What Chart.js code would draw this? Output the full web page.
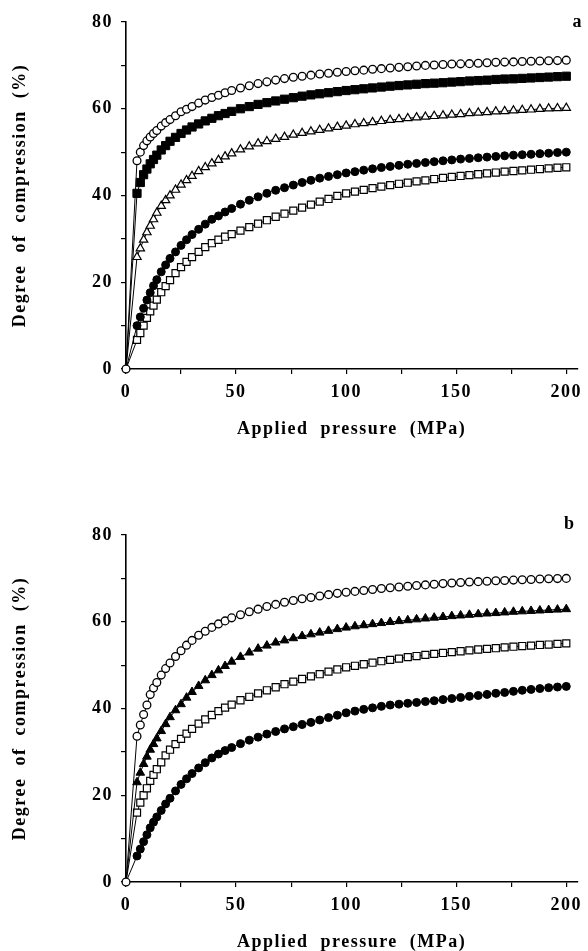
<!DOCTYPE html>
<html>
<head>
<meta charset="utf-8">
<script src="https://cdn.jsdelivr.net/npm/chart.js@4.4.1/dist/chart.umd.min.js"></script>
<style>
  html, body { margin: 0; padding: 0; background: #fff; width: 588px; height: 951px; overflow: hidden; }
  .panel { position: absolute; left: 0; }
</style>
</head>
<body>
<div class="panel" style="top:0px"><canvas id="chartA" width="588" height="450"></canvas></div>
<div class="panel" style="top:470px"><canvas id="chartB" width="588" height="481"></canvas></div>
<script>
// ---------------- DATA ----------------
const pressure = [0, 5, 6.5, 8, 9.5, 11, 12.5, 14, 16, 18, 20, 22.5, 25, 27.5, 30, 33, 36, 39, 42, 45, 48,
  52, 56, 60, 64, 68, 72, 76, 80, 84, 88, 92, 96, 100, 104, 108, 112, 116, 120, 124, 128, 132, 136, 140,
  144, 148, 152, 156, 160, 164, 168, 172, 176, 180, 184, 188, 192, 196, 200];

const xTicks = [0, 25, 50, 75, 100, 125, 150, 175, 200];
const yTicks = [0, 10, 20, 30, 40, 50, 60, 70, 80];

// Panel a
const aOpenCircles = [0, 48.0, 50.0, 51.5, 52.6, 53.5, 54.3, 55.0, 56.0, 56.8, 57.5, 58.4, 59.3, 59.9, 60.5,
  61.3, 62.0, 62.6, 63.1, 63.7, 64.2, 64.8, 65.3, 65.8, 66.2, 66.6, 66.95, 67.25, 67.5, 67.75, 68.0, 68.2,
  68.4, 68.6, 68.75, 68.9, 69.1, 69.25, 69.4, 69.55, 69.7, 69.85, 70.0, 70.1, 70.2, 70.3, 70.35, 70.4, 70.5,
  70.6, 70.7, 70.75, 70.8, 70.9, 70.95, 71.0, 71.05, 71.1, 71.2];
const aFilledSquares = [0, 40.5, 43.0, 44.8, 46.1, 47.3, 48.3, 49.3, 50.5, 51.5, 52.5, 53.4, 54.3, 55.1, 55.8,
  56.5, 57.2, 57.8, 58.4, 58.9, 59.4, 60.0, 60.5, 61.0, 61.4, 61.8, 62.2, 62.55, 62.9, 63.2, 63.45, 63.7,
  63.95, 64.2, 64.4, 64.6, 64.8, 65.0, 65.2, 65.35, 65.5, 65.65, 65.8, 65.9, 66.0, 66.15, 66.25, 66.4, 66.5,
  66.6, 66.75, 66.85, 66.9, 67.0, 67.1, 67.2, 67.3, 67.4, 67.5];
const aOpenTriangles = [0, 25.8, 27.8, 29.8, 31.5, 33.0, 34.5, 36.0, 37.6, 38.9, 40.0, 41.3, 42.5, 43.5, 44.5,
  45.6, 46.5, 47.4, 48.2, 49.0, 49.7, 50.6, 51.3, 52.0, 52.5, 53.05, 53.5, 54.0, 54.4, 54.75, 55.1, 55.45,
  55.8, 56.1, 56.4, 56.65, 56.9, 57.15, 57.4, 57.6, 57.8, 58.0, 58.15, 58.3, 58.45, 58.6, 58.75, 58.95, 59.1,
  59.2, 59.35, 59.45, 59.6, 59.7, 59.8, 59.95, 60.05, 60.1, 60.2];
const aFilledCircles = [0, 10.0, 12.0, 14.0, 15.9, 17.6, 19.2, 20.6, 22.4, 24.0, 25.5, 27.0, 28.5, 29.8, 31.0,
  32.2, 33.4, 34.5, 35.3, 36.2, 37.0, 38.0, 38.9, 39.7, 40.5, 41.2, 41.8, 42.4, 43.0, 43.5, 44.0, 44.4,
  44.8, 45.2, 45.5, 45.85, 46.15, 46.45, 46.7, 46.95, 47.2, 47.4, 47.6, 47.8, 48.0, 48.2, 48.4, 48.55, 48.7,
  48.85, 49.0, 49.15, 49.3, 49.4, 49.5, 49.65, 49.75, 49.9, 50.0];
const aOpenSquares = [0, 6.7, 8.3, 10.0, 11.8, 13.3, 14.6, 16.0, 17.7, 19.1, 20.5, 22.1, 23.5, 24.7, 25.8,
  27.0, 28.1, 29.0, 29.8, 30.5, 31.1, 31.9, 32.7, 33.5, 34.3, 35.1, 35.8, 36.5, 37.2, 37.9, 38.6, 39.2,
  39.9, 40.5, 40.9, 41.3, 41.7, 42.05, 42.4, 42.7, 42.95, 43.25, 43.5, 43.8, 44.05, 44.3, 44.5, 44.7, 44.9,
  45.1, 45.3, 45.5, 45.65, 45.8, 45.95, 46.1, 46.25, 46.4, 46.5];

// Panel b
const bOpenCircles = [0, 33.6, 36.2, 38.6, 40.8, 43.2, 44.7, 46.0, 47.7, 49.2, 50.5, 52.0, 53.3, 54.6, 55.7,
  56.9, 57.8, 58.7, 59.5, 60.2, 60.9, 61.6, 62.3, 62.9, 63.5, 64.0, 64.5, 64.9, 65.3, 65.6, 65.95, 66.25,
  66.55, 66.8, 67.0, 67.2, 67.45, 67.65, 67.85, 68.0, 68.2, 68.35, 68.5, 68.65, 68.8, 68.95, 69.05, 69.15,
  69.25, 69.35, 69.45, 69.5, 69.6, 69.7, 69.75, 69.85, 69.9, 69.95, 70.0];
const bFilledTriangles = [0, 23.0, 25.2, 27.2, 28.9, 30.5, 31.8, 33.1, 34.8, 36.4, 38.0, 39.6, 41.0, 42.5, 43.8,
  45.2, 46.5, 47.7, 48.8, 49.8, 50.8, 51.9, 52.9, 53.8, 54.5, 55.2, 55.7, 56.2, 56.7, 57.1, 57.5, 57.9,
  58.3, 58.65, 58.95, 59.2, 59.45, 59.7, 59.95, 60.15, 60.35, 60.55, 60.75, 60.95, 61.1, 61.3, 61.45, 61.6,
  61.75, 61.9, 62.0, 62.15, 62.3, 62.4, 62.5, 62.6, 62.7, 62.8, 62.9];
const bOpenSquares = [0, 16.0, 18.3, 20.0, 21.6, 23.3, 24.7, 26.0, 27.6, 29.2, 30.5, 31.8, 33.0, 34.2, 35.3,
  36.5, 37.5, 38.5, 39.4, 40.2, 40.9, 41.9, 42.7, 43.5, 44.2, 44.9, 45.6, 46.2, 46.8, 47.4, 47.9, 48.5,
  49.0, 49.5, 49.85, 50.2, 50.55, 50.9, 51.2, 51.5, 51.85, 52.1, 52.35, 52.6, 52.8, 53.0, 53.2, 53.4, 53.6,
  53.75, 53.9, 54.1, 54.25, 54.4, 54.5, 54.65, 54.75, 54.9, 55.0];
const bFilledCircles = [0, 6.0, 7.6, 9.3, 10.9, 12.5, 13.8, 15.0, 16.5, 18.0, 19.3, 21.0, 22.5, 23.8, 25.0,
  26.3, 27.5, 28.6, 29.5, 30.3, 31.0, 31.9, 32.7, 33.4, 34.1, 34.7, 35.3, 35.8, 36.3, 36.8, 37.35, 37.9,
  38.45, 39.0, 39.4, 39.8, 40.15, 40.5, 40.8, 41.0, 41.2, 41.4, 41.6, 41.8, 42.05, 42.3, 42.55, 42.8, 43.0,
  43.25, 43.5, 43.7, 43.95, 44.2, 44.4, 44.6, 44.8, 44.95, 45.1];

const xTitle = 'Applied  pressure  (MPa)';
const yTitle = 'Degree  of  compression  (%)';

// ---------------- STYLES ----------------
const FONT = '"Liberation Serif", "Times New Roman", serif';
const MARK = {
  openCircle:     { pointStyle: 'circle',   r: 3.9, fill: '#fff', bw: 1.3, origin: true },
  filledCircle:   { pointStyle: 'circle',   r: 4.0, fill: '#000', bw: 1,   origin: false },
  openSquare:     { pointStyle: 'rect',     r: 5.0, fill: '#fff', bw: 1.2, origin: false },
  filledSquare:   { pointStyle: 'rect',     r: 5.8, fill: '#000', bw: 1,   origin: false },
  openTriangle:   { pointStyle: 'triangle', r: 4.8, fill: '#fff', bw: 1.2, origin: false },
  filledTriangle: { pointStyle: 'triangle', r: 5.0, fill: '#000', bw: 1,   origin: false }
};

function series(values, markName) {
  const m = MARK[markName];
  return {
    data: pressure.map((p, i) => ({ x: p, y: values[i] })),
    showLine: true,
    borderColor: '#000',
    borderWidth: 1,
    tension: 0,
    pointStyle: m.pointStyle,
    pointRadius: c => (c.dataIndex === 0 && !m.origin) ? 0 : m.r,
    pointBackgroundColor: m.fill,
    pointBorderColor: '#000',
    pointBorderWidth: m.bw,
    clip: false
  };
}

const letterSpacingPlugin = {
  id: 'letterSpacing',
  beforeDraw(chart) { chart.ctx.letterSpacing = '1.5px'; },
  afterDraw(chart) { chart.ctx.letterSpacing = '0px'; }
};

const panelLetterPlugin = {
  id: 'panelLetter',
  afterDraw(chart, args, opts) {
    const ctx = chart.ctx;
    ctx.save();
    ctx.letterSpacing = '0px';
    ctx.font = 'bold 18px ' + FONT;
    ctx.fillStyle = '#000';
    ctx.textAlign = 'center';
    ctx.textBaseline = 'middle';
    ctx.fillText(opts.text, opts.x, opts.y);
    ctx.restore();
  }
};

function makeChart(id, datasets, letter, cfg) {
  const tickFont = { family: FONT, weight: 'bold', size: 18, lineHeight: 1.2 };
  const titleFont = { family: FONT, weight: 'bold', size: 18, lineHeight: 1 };
  return new Chart(document.getElementById(id), {
    type: 'scatter',
    data: { datasets },
    plugins: [letterSpacingPlugin, panelLetterPlugin],
    options: {
      responsive: false,
      animation: false,
      events: [],
      layout: { padding: { left: 0, right: 9, top: cfg.top, bottom: 0 } },
      plugins: {
        legend: { display: false },
        tooltip: { enabled: false },
        panelLetter: { text: letter, x: cfg.letterX, y: cfg.letterY }
      },
      scales: {
        x: {
          type: 'linear', min: 0, max: 205,
          afterBuildTicks: s => { s.ticks = xTicks.map(v => ({ value: v })); },
          afterFit: s => { s.height = cfg.xh; },
          grid: { display: true, drawOnChartArea: false, drawTicks: true, tickLength: 5, color: '#000', lineWidth: 1.2 },
          border: { display: true, color: '#000', width: 1.6 },
          ticks: { autoSkip: false, maxRotation: 0, padding: 8, color: '#000', font: tickFont,
                   callback: v => (v % 50 === 0 ? String(v) : '') },
          title: { display: true, text: xTitle, color: '#000', font: titleFont, padding: { top: 0, bottom: cfg.xtpb } }
        },
        y: {
          type: 'linear', min: 0, max: 80,
          afterBuildTicks: s => { s.ticks = yTicks.map(v => ({ value: v })); },
          afterFit: s => { s.width = 126; },
          grid: { display: true, drawOnChartArea: false, drawTicks: true, tickLength: 5, color: '#000', lineWidth: 1.2 },
          border: { display: true, color: '#000', width: 1.6 },
          ticks: { autoSkip: false, padding: 8, color: '#000', font: tickFont,
                   callback: v => (v % 20 === 0 ? String(v) : '') },
          title: { display: true, text: yTitle, color: '#000', font: titleFont, padding: { top: 11, bottom: 0 } }
        }
      }
    }
  });
}

makeChart('chartA', [
  series(aOpenCircles, 'openCircle'),
  series(aFilledSquares, 'filledSquare'),
  series(aOpenTriangles, 'openTriangle'),
  series(aFilledCircles, 'filledCircle'),
  series(aOpenSquares, 'openSquare')
], 'a', { top: 22, xh: 81, xtpb: 12, letterX: 577, letterY: 22 });

makeChart('chartB', [
  series(bOpenCircles, 'openCircle'),
  series(bFilledTriangles, 'filledTriangle'),
  series(bOpenSquares, 'openSquare'),
  series(bFilledCircles, 'filledCircle')
], 'b', { top: 65, xh: 69, xtpb: 0, letterX: 569, letterY: 54 });
</script>
</body>
</html>
